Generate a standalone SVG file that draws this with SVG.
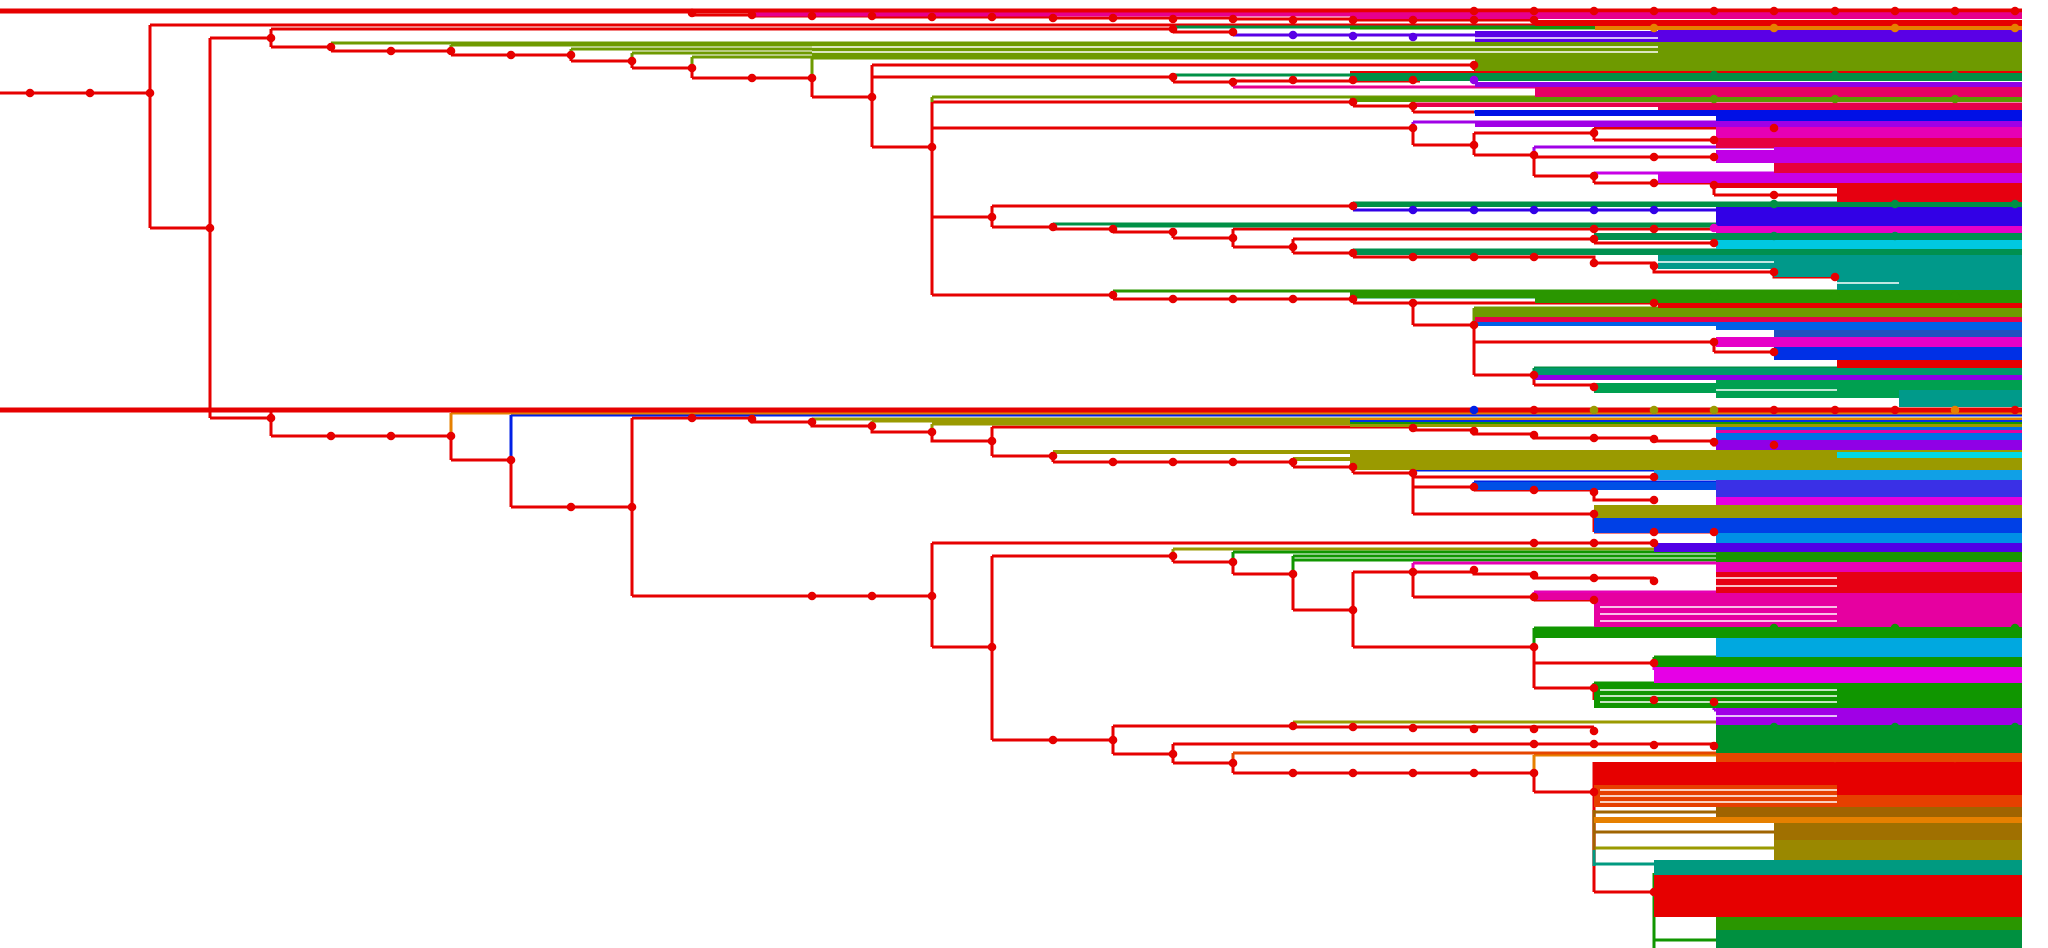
<svg xmlns="http://www.w3.org/2000/svg" width="2048" height="948" viewBox="0 0 2048 948">
<style>
path{fill:none;stroke-width:3;stroke-linecap:butt;stroke-linejoin:miter}
.r{stroke:#e60000}
.ol{stroke:#6e9a00}
.g{stroke:#009046}
.g2{stroke:#2a9600}
.g3{stroke:#109600}
.pb{stroke:#5a00e6}
.mg{stroke:#e6008c}
.pu{stroke:#a000e6}
.vi{stroke:#c800e6}
.bp{stroke:#3200e6}
.pk{stroke:#e6004a}
.bl{stroke:#0020e6}
.b2{stroke:#0060e6}
.or{stroke:#e68000}
.oy{stroke:#9a9a00}
.mp{stroke:#e600b4}
.m2{stroke:#e600e6}
.orr{stroke:#e64600}
.wh{stroke:#ffffff;stroke-width:1.6}
.d circle{fill:#e60000}
</style>
<g id="connectors">
<path class="r" d="M0 93H150M150 25V228M150 25H2022M150 228H210M210 38V418M210 38H271M210 418H271M271 29V47M271 29H1173M271 47H331M331 47V51M331 51H451M451 51V55M451 55H571M571 55V61M571 61H632M632 61V68M632 68H692M692 68V78M692 78H812M812 78V97M812 97H872M872 65V147M872 65H1474M1474 65V70M1474 70H2022M872 77H1173M872 147H932M1173 77V82M1173 82H1233M1233 81H1420M932 102V295M932 102H1353M1353 102V106M1353 106H1413M1413 106V112M1413 112H1474M932 128H1413M1413 128V145M1413 145H1474M1474 133V155M1474 133H1594M1594 128V140M1594 128H1774M1594 140H1714M1474 155H1534M1534 155V176M1534 157H1714M1534 176H1594M1594 176V183M1594 183H1714M1714 183V195M1714 195H1837M932 217H992M992 206V227M992 206H1353M992 227H1053M1053 227V229M1053 229H1113M1113 229V232M1113 232H1173M1173 232V238M1173 238H1233M1233 229V247M1233 229H1716M1233 247H1293M1293 239V253M1293 239H1594M1594 239V243M1594 243H1716M1293 253H1353M1353 253V257M1353 257H1594V263H1654V272H1774V277H1837M932 295H1113M1113 295V299M1113 299H1353M1353 299V303M1353 303H1413M1413 303V325M1413 303H1716M1413 325H1474M1474 325V375M1474 342H1714M1714 342V352M1714 352H1774M1474 375H1534M1534 375V385M1534 385H1594M1173 29V32M1173 32H1233M692 15H752V16H872V17H1053V18H1233V19H1353V20H1534"/>
<path class="r" d="M271 410V436M271 436H451M451 436V460M451 460H511M511 460V507M511 507H632M632 418V596M632 418H752V422H812V426H872V432H932V441H992M992 427V456M992 427H1413V430H1474V434H1534V438H1654V441H1714V445H1774M992 456H1053M1053 456V462M1053 462H1293M1293 462V467M1293 467H1353M1353 467V473M1353 473H1413M1413 473V514M1413 477H1654M1413 487H1474M1474 487V490M1474 490H1594V500H1654M1413 514H1594M1594 514V532M1594 532H1714M632 596H932M932 543V647M932 543H1654M932 647H992M992 556V740M992 556H1173M1173 556V562M1173 562H1233M1233 562V574M1233 574H1293M1293 574V610M1293 610H1353M1353 572V647M1353 572H1413M1413 572V597M1413 572H1474V574H1534V578H1654M1413 597H1534M1534 597V600M1534 600H1594M1353 647H1534M1534 647V688M1534 663H1654M1534 688H1594M1594 688V700M1594 700H1714M992 740H1113M1113 726V754M1113 726H1293M1293 726V727M1293 727H1594M1113 754H1173M1173 744V763M1173 744H1716M1173 763H1233M1233 763V773M1233 773H1534M1534 773V792M1534 792H1594M1594 762V892M1594 892H1654"/>
<path class="ol" d="M331 43V47M331 43H2022M451 45V51M451 45H2022M571 49V55M571 49H2022M632 53V61M632 53H2022M692 57V68M692 57H2022M812 58V78M812 58H2022M932 97V102M932 97H2022M1474 308V325M1474 308H2022"/>
<path class="g" d="M1173 27V29M1173 27H2022M1173 75V77M1173 75H2022M1353 203V206M1353 203H2022M1053 224V227M1053 224H2022M1113 226H2022M1353 250V253M1353 250H2022M1353 297V299M1353 297H2022M1534 368V375M1534 368H2022"/>
<path class="g2" d="M1113 291V295M1113 291H2022"/>
<path class="pb" d="M1233 32V35M1233 35H2022"/>
<path class="mg" d="M1233 82V87M1233 87H2022"/>
<path class="pu" d="M1413 122V128M1413 122H2022M1534 147V155M1534 147H2022M1534 378H2022M1714 702V710M1714 710H2022"/>
<path class="vi" d="M1594 173V176M1594 173H2022"/>
<path class="bp" d="M1353 206V210M1353 210H2022"/>
<path class="pk" d="M1413 104H2022"/>
<path class="bl" d="M1474 112H2022M511 415V460M511 415H2022M1413 470V473M1413 470H2022M1474 482V487M1474 482H2022"/>
<path class="b2" d="M1474 322H2022"/>
<path class="or" d="M451 413V436M451 413H2022M1534 755V773M1534 755H2022M1594 820H2022"/>
<path class="oy" d="M812 419V422M812 419H2022M872 421V426M872 421H2022M932 424V432M932 424H2022M1594 510V514M1594 510H2022M1173 549V556M1173 549H2022M1293 722V726M1293 722H2022M1594 848H2022"/>
<path class="oy" style="stroke-width:4" d="M1053 452V456M1053 452H2022M1293 459V462M1293 459H2022"/>
<path class="g3" d="M1233 552V562M1233 552H2022M1293 556V574M1293 556H2022M1293 560H2022M1534 628V647M1534 628H2022M1654 657V663M1654 657H2022M1594 683V688M1594 683H2022M1654 873V948M1654 880H1716M1654 940H1716"/>
<path class="mp" d="M1413 563V572M1413 563H2022M1534 592V597M1534 592H2022"/>
<path class="m2" d="M1654 663V670M1654 670H2022"/>
<path class="orr" d="M1233 753V763M1233 753H2022M1594 797H2022"/>
<path style="stroke:#a06400" d="M1594 810V850M1594 812H2022M1594 832H2022"/>
<path style="stroke:#009a80" d="M1594 850V866M1594 864H1654"/>
<g id="bands">
<rect x="0" y="8.5" width="2022" height="5" fill="#e60000"/>
<rect x="752" y="12.5" width="1270" height="4" fill="#e6008c"/>
<rect x="1350" y="12.5" width="672" height="6.5" fill="#e6008c"/>
<rect x="1535" y="20" width="487" height="6" fill="#e60000"/>
<rect x="1350" y="26.5" width="672" height="3" fill="#1a9600"/>
<rect x="1595" y="26" width="427" height="4" fill="#e68000"/>
<rect x="1475" y="31" width="547" height="12" fill="#5a00e6"/>
<rect x="1658" y="30" width="364" height="14" fill="#5a00e6"/>
<rect x="812" y="42" width="1210" height="15" fill="#6e9a00"/>
<rect x="1475" y="55" width="547" height="17" fill="#6e9a00"/>
<rect x="1658" y="42" width="364" height="30" fill="#6e9a00"/>
<rect x="1350" y="71" width="672" height="2" fill="#e60000"/>
<rect x="1350" y="73" width="672" height="8" fill="#009046"/>
<rect x="1475" y="82" width="547" height="5" fill="#9000e6"/>
<rect x="1535" y="87" width="487" height="10" fill="#e60064"/>
<rect x="1350" y="97" width="672" height="5" fill="#5a9a00"/>
<rect x="1417" y="103" width="605" height="4" fill="#e6004a"/>
<rect x="1658" y="103" width="364" height="7" fill="#e6004a"/>
<rect x="1475" y="110" width="547" height="6" fill="#0010e6"/>
<rect x="1716" y="110" width="306" height="12" fill="#0010e6"/>
<rect x="1475" y="121" width="547" height="6" fill="#a000e6"/>
<rect x="1716" y="127" width="306" height="11" fill="#e600b4"/>
<rect x="1716" y="138" width="306" height="10" fill="#e60040"/>
<rect x="1716" y="150" width="306" height="13" fill="#c000e6"/>
<rect x="1774" y="147" width="248" height="16" fill="#c000e6"/>
<rect x="1774" y="163" width="248" height="10" fill="#e6003c"/>
<rect x="1658" y="173" width="364" height="10" fill="#c800e6"/>
<rect x="1716" y="183" width="306" height="5" fill="#e60010"/>
<rect x="1837" y="183" width="185" height="20" fill="#e60010"/>
<rect x="1353" y="202" width="669" height="5" fill="#009046"/>
<rect x="1716" y="207" width="306" height="19" fill="#3200e6"/>
<rect x="1716" y="226" width="306" height="7" fill="#e600c8"/>
<rect x="1594" y="233" width="428" height="7" fill="#009050"/>
<rect x="1716" y="240" width="306" height="12" fill="#00c8e0"/>
<rect x="1353" y="249" width="669" height="6" fill="#009050"/>
<rect x="1658" y="255" width="364" height="14" fill="#00998a"/>
<rect x="1774" y="255" width="248" height="22" fill="#00998a"/>
<rect x="1837" y="255" width="185" height="35" fill="#00998a"/>
<rect x="1350" y="290" width="672" height="8" fill="#2a9600"/>
<rect x="1535" y="290" width="487" height="13" fill="#2a9600"/>
<rect x="1658" y="303" width="364" height="7" fill="#e60000"/>
<rect x="1475" y="308" width="547" height="9" fill="#6e9a00"/>
<rect x="1475" y="317" width="547" height="5" fill="#e6004a"/>
<rect x="1475" y="322" width="547" height="4" fill="#0060e6"/>
<rect x="1716" y="322" width="306" height="8" fill="#0060e6"/>
<rect x="1774" y="330" width="248" height="7" fill="#2050c0"/>
<rect x="1716" y="337" width="306" height="10" fill="#e600c8"/>
<rect x="1774" y="347" width="248" height="13" fill="#0030e6"/>
<rect x="1837" y="360" width="185" height="8" fill="#e60000"/>
<rect x="1535" y="368" width="487" height="7" fill="#00996a"/>
<rect x="1535" y="375" width="487" height="5" fill="#9000e6"/>
<rect x="1594" y="383" width="428" height="10" fill="#00a050"/>
<rect x="1716" y="380" width="306" height="18" fill="#00a050"/>
<rect x="1899" y="390" width="123" height="17" fill="#009a8a"/>
<rect x="0" y="407.5" width="2022" height="5" fill="#e60000"/>
<rect x="1350" y="418" width="672" height="2" fill="#e68000"/>
<rect x="1350" y="420" width="672" height="2" fill="#0030e6"/>
<rect x="1350" y="422" width="672" height="2" fill="#1a9600"/>
<rect x="1350" y="424" width="672" height="3" fill="#9a9a00"/>
<rect x="1716" y="427" width="306" height="13" fill="#0070e6"/>
<rect x="1716" y="430" width="306" height="3" fill="#e600a0"/>
<rect x="1716" y="440" width="306" height="10" fill="#9000e6"/>
<rect x="1350" y="450" width="672" height="20" fill="#9a9a00"/>
<rect x="1837" y="452" width="185" height="6" fill="#00d8e6"/>
<rect x="1654" y="470" width="368" height="10" fill="#10a0e6"/>
<rect x="1474" y="482" width="548" height="8" fill="#0050e6"/>
<rect x="1716" y="480" width="306" height="17" fill="#3a30e6"/>
<rect x="1716" y="497" width="306" height="8" fill="#e600e0"/>
<rect x="1594" y="505" width="428" height="13" fill="#9a9a00"/>
<rect x="1594" y="518" width="428" height="15" fill="#0040e6"/>
<rect x="1716" y="533" width="306" height="10" fill="#0090e6"/>
<rect x="1654" y="543" width="368" height="9" fill="#5000e6"/>
<rect x="1716" y="552" width="306" height="10" fill="#1a9600"/>
<rect x="1716" y="562" width="306" height="10" fill="#e600b4"/>
<rect x="1716" y="572" width="306" height="21" fill="#e60014"/>
<rect x="1534" y="593" width="488" height="7" fill="#e600a0"/>
<rect x="1594" y="600" width="428" height="27" fill="#e600a0"/>
<rect x="1534" y="627" width="488" height="11" fill="#109600"/>
<rect x="1716" y="638" width="306" height="19" fill="#00a8e0"/>
<rect x="1654" y="657" width="368" height="10" fill="#109600"/>
<rect x="1654" y="667" width="368" height="16" fill="#e600e6"/>
<rect x="1594" y="683" width="428" height="25" fill="#109600"/>
<rect x="1716" y="708" width="306" height="17" fill="#a000e6"/>
<rect x="1716" y="725" width="306" height="28" fill="#009028"/>
<rect x="1716" y="753" width="306" height="9" fill="#e64600"/>
<rect x="1594" y="762" width="428" height="23" fill="#e60000"/>
<rect x="1594" y="785" width="428" height="22" fill="#e64000"/>
<rect x="1837" y="785" width="185" height="10" fill="#e60000"/>
<rect x="1716" y="807" width="306" height="10" fill="#a06400"/>
<rect x="1594" y="817" width="428" height="6" fill="#e68000"/>
<rect x="1774" y="823" width="248" height="17" fill="#a07000"/>
<rect x="1774" y="840" width="248" height="20" fill="#9a8800"/>
<rect x="1654" y="860" width="368" height="15" fill="#009a80"/>
<rect x="1654" y="875" width="368" height="42" fill="#e60000"/>
<rect x="1716" y="917" width="306" height="13" fill="#2a9600"/>
<rect x="1716" y="930" width="306" height="18" fill="#009040"/>
<path class="wh" d="M812 47H1658M812 52H1658M1837 283H1899M1716 578H1837M1716 586H1837M1600 607H1837M1600 614H1837M1600 621H1837M1600 690H1837M1600 696H1837M1600 702H1837M1716 716H1837M1600 790H1837M1600 796H1837M1600 802H1837M1658 262H1774M1475 38H1658M1716 390H1837"/>
</g>
</g>
<g id="nodes" class="d">
<g id="n1"><circle cx="30" cy="93" r="4.3"/></g>
<g id="n2"><circle cx="90" cy="93" r="4.3"/></g>
<g id="n3"><circle cx="150" cy="93" r="4.3"/></g>
<g id="n4"><circle cx="210" cy="228" r="4.3"/></g>
<g id="n5"><circle cx="271" cy="38" r="4.3"/></g>
<g id="n6"><circle cx="331" cy="47" r="4.3"/></g>
<g id="n7"><circle cx="391" cy="51" r="4.3"/></g>
<g id="n8"><circle cx="451" cy="51" r="4.3"/></g>
<g id="n9"><circle cx="511" cy="55" r="4.3"/></g>
<g id="n10"><circle cx="571" cy="55" r="4.3"/></g>
<g id="n11"><circle cx="632" cy="61" r="4.3"/></g>
<g id="n12"><circle cx="692" cy="68" r="4.3"/></g>
<g id="n13"><circle cx="752" cy="78" r="4.3"/></g>
<g id="n14"><circle cx="812" cy="78" r="4.3"/></g>
<g id="n15"><circle cx="872" cy="97" r="4.3"/></g>
<g id="n16"><circle cx="932" cy="147" r="4.3"/></g>
<g id="n17"><circle cx="692" cy="13" r="4.3"/></g>
<g id="n18"><circle cx="752" cy="15" r="4.3"/></g>
<g id="n19"><circle cx="812" cy="16" r="4.3"/></g>
<g id="n20"><circle cx="872" cy="16" r="4.3"/></g>
<g id="n21"><circle cx="932" cy="17" r="4.3"/></g>
<g id="n22"><circle cx="992" cy="17" r="4.3"/></g>
<g id="n23"><circle cx="1053" cy="18" r="4.3"/></g>
<g id="n24"><circle cx="1113" cy="18" r="4.3"/></g>
<g id="n25"><circle cx="1173" cy="19" r="4.3"/></g>
<g id="n26"><circle cx="1233" cy="19" r="4.3"/></g>
<g id="n27"><circle cx="1293" cy="20" r="4.3"/></g>
<g id="n28"><circle cx="1353" cy="20" r="4.3"/></g>
<g id="n29"><circle cx="1413" cy="20" r="4.3"/></g>
<g id="n30"><circle cx="1474" cy="20" r="4.3"/></g>
<g id="n31"><circle cx="1534" cy="20" r="4.3"/></g>
<g id="n32"><circle cx="1474" cy="11" r="4.3"/></g>
<g id="n33"><circle cx="1534" cy="11" r="4.3"/></g>
<g id="n34"><circle cx="1594" cy="11" r="4.3"/></g>
<g id="n35"><circle cx="1654" cy="11" r="4.3"/></g>
<g id="n36"><circle cx="1714" cy="11" r="4.3"/></g>
<g id="n37"><circle cx="1774" cy="11" r="4.3"/></g>
<g id="n38"><circle cx="1835" cy="11" r="4.3"/></g>
<g id="n39"><circle cx="1895" cy="11" r="4.3"/></g>
<g id="n40"><circle cx="1955" cy="11" r="4.3"/></g>
<g id="n41"><circle cx="2015" cy="11" r="4.3"/></g>
<g id="n42"><circle cx="1173" cy="29" r="4.3"/></g>
<g id="n43"><circle cx="1233" cy="32" r="4.3"/></g>
<g id="n44"><circle cx="1173" cy="77" r="4.3"/></g>
<g id="n45"><circle cx="1233" cy="82" r="4.3"/></g>
<g id="n46"><circle cx="1293" cy="80" r="4.3"/></g>
<g id="n47"><circle cx="1353" cy="80" r="4.3"/></g>
<g id="n48"><circle cx="1413" cy="80" r="4.3"/></g>
<g id="n49"><circle cx="1474" cy="65" r="4.3"/></g>
<g id="n50"><circle cx="1353" cy="102" r="4.3"/></g>
<g id="n51"><circle cx="1413" cy="106" r="4.3"/></g>
<g id="n52"><circle cx="1413" cy="128" r="4.3"/></g>
<g id="n53"><circle cx="1474" cy="145" r="4.3"/></g>
<g id="n54"><circle cx="1534" cy="155" r="4.3"/></g>
<g id="n55"><circle cx="1594" cy="133" r="4.3"/></g>
<g id="n56"><circle cx="1714" cy="140" r="4.3"/></g>
<g id="n57"><circle cx="1594" cy="176" r="4.3"/></g>
<g id="n58"><circle cx="1654" cy="183" r="4.3"/></g>
<g id="n59"><circle cx="1714" cy="185" r="4.3"/></g>
<g id="n60"><circle cx="1774" cy="195" r="4.3"/></g>
<g id="n61"><circle cx="1654" cy="157" r="4.3"/></g>
<g id="n62"><circle cx="1714" cy="157" r="4.3"/></g>
<g id="n63"><circle cx="1774" cy="128" r="4.3"/></g>
<g id="n64"><circle cx="992" cy="217" r="4.3"/></g>
<g id="n65"><circle cx="1053" cy="227" r="4.3"/></g>
<g id="n66"><circle cx="1113" cy="229" r="4.3"/></g>
<g id="n67"><circle cx="1173" cy="232" r="4.3"/></g>
<g id="n68"><circle cx="1233" cy="238" r="4.3"/></g>
<g id="n69"><circle cx="1293" cy="247" r="4.3"/></g>
<g id="n70"><circle cx="1353" cy="253" r="4.3"/></g>
<g id="n71"><circle cx="1353" cy="206" r="4.3"/></g>
<g id="n72"><circle cx="1413" cy="257" r="4.3"/></g>
<g id="n73"><circle cx="1474" cy="257" r="4.3"/></g>
<g id="n74"><circle cx="1534" cy="257" r="4.3"/></g>
<g id="n75"><circle cx="1594" cy="263" r="4.3"/></g>
<g id="n76"><circle cx="1654" cy="266" r="4.3"/></g>
<g id="n77"><circle cx="1774" cy="272" r="4.3"/></g>
<g id="n78"><circle cx="1835" cy="277" r="4.3"/></g>
<g id="n79"><circle cx="1594" cy="229" r="4.3"/></g>
<g id="n80"><circle cx="1654" cy="229" r="4.3"/></g>
<g id="n81"><circle cx="1594" cy="239" r="4.3"/></g>
<g id="n82"><circle cx="1714" cy="243" r="4.3"/></g>
<g id="n83"><circle cx="1113" cy="295" r="4.3"/></g>
<g id="n84"><circle cx="1173" cy="299" r="4.3"/></g>
<g id="n85"><circle cx="1233" cy="299" r="4.3"/></g>
<g id="n86"><circle cx="1293" cy="299" r="4.3"/></g>
<g id="n87"><circle cx="1353" cy="299" r="4.3"/></g>
<g id="n88"><circle cx="1413" cy="303" r="4.3"/></g>
<g id="n89"><circle cx="1654" cy="303" r="4.3"/></g>
<g id="n90"><circle cx="1474" cy="325" r="4.3"/></g>
<g id="n91"><circle cx="1714" cy="342" r="4.3"/></g>
<g id="n92"><circle cx="1774" cy="352" r="4.3"/></g>
<g id="n93"><circle cx="1534" cy="375" r="4.3"/></g>
<g id="n94"><circle cx="1594" cy="387" r="4.3"/></g>
<g id="n95"><circle cx="271" cy="418" r="4.3"/></g>
<g id="n96"><circle cx="331" cy="436" r="4.3"/></g>
<g id="n97"><circle cx="391" cy="436" r="4.3"/></g>
<g id="n98"><circle cx="451" cy="436" r="4.3"/></g>
<g id="n99"><circle cx="511" cy="460" r="4.3"/></g>
<g id="n100"><circle cx="571" cy="507" r="4.3"/></g>
<g id="n101"><circle cx="632" cy="507" r="4.3"/></g>
<g id="n102"><circle cx="692" cy="418" r="4.3"/></g>
<g id="n103"><circle cx="752" cy="419" r="4.3"/></g>
<g id="n104"><circle cx="812" cy="422" r="4.3"/></g>
<g id="n105"><circle cx="872" cy="426" r="4.3"/></g>
<g id="n106"><circle cx="932" cy="432" r="4.3"/></g>
<g id="n107"><circle cx="992" cy="441" r="4.3"/></g>
<g id="n108"><circle cx="1053" cy="456" r="4.3"/></g>
<g id="n109"><circle cx="1113" cy="462" r="4.3"/></g>
<g id="n110"><circle cx="1173" cy="462" r="4.3"/></g>
<g id="n111"><circle cx="1233" cy="462" r="4.3"/></g>
<g id="n112"><circle cx="1293" cy="462" r="4.3"/></g>
<g id="n113"><circle cx="1353" cy="467" r="4.3"/></g>
<g id="n114"><circle cx="1413" cy="473" r="4.3"/></g>
<g id="n115"><circle cx="1474" cy="487" r="4.3"/></g>
<g id="n116"><circle cx="1534" cy="490" r="4.3"/></g>
<g id="n117"><circle cx="1594" cy="492" r="4.3"/></g>
<g id="n118"><circle cx="1654" cy="500" r="4.3"/></g>
<g id="n119"><circle cx="1654" cy="477" r="4.3"/></g>
<g id="n120"><circle cx="1594" cy="514" r="4.3"/></g>
<g id="n121"><circle cx="1654" cy="532" r="4.3"/></g>
<g id="n122"><circle cx="1714" cy="532" r="4.3"/></g>
<g id="n123"><circle cx="1413" cy="428" r="4.3"/></g>
<g id="n124"><circle cx="1474" cy="431" r="4.3"/></g>
<g id="n125"><circle cx="1534" cy="435" r="4.3"/></g>
<g id="n126"><circle cx="1594" cy="438" r="4.3"/></g>
<g id="n127"><circle cx="1654" cy="439" r="4.3"/></g>
<g id="n128"><circle cx="1714" cy="442" r="4.3"/></g>
<g id="n129"><circle cx="1774" cy="445" r="4.3"/></g>
<g id="n130"><circle cx="1534" cy="410" r="4.3"/></g>
<g id="n131"><circle cx="1774" cy="410" r="4.3"/></g>
<g id="n132"><circle cx="1835" cy="410" r="4.3"/></g>
<g id="n133"><circle cx="1895" cy="410" r="4.3"/></g>
<g id="n134"><circle cx="2015" cy="410" r="4.3"/></g>
<g id="n135"><circle cx="812" cy="596" r="4.3"/></g>
<g id="n136"><circle cx="872" cy="596" r="4.3"/></g>
<g id="n137"><circle cx="932" cy="596" r="4.3"/></g>
<g id="n138"><circle cx="1534" cy="543" r="4.3"/></g>
<g id="n139"><circle cx="1594" cy="543" r="4.3"/></g>
<g id="n140"><circle cx="1654" cy="543" r="4.3"/></g>
<g id="n141"><circle cx="992" cy="647" r="4.3"/></g>
<g id="n142"><circle cx="1173" cy="556" r="4.3"/></g>
<g id="n143"><circle cx="1233" cy="562" r="4.3"/></g>
<g id="n144"><circle cx="1293" cy="574" r="4.3"/></g>
<g id="n145"><circle cx="1353" cy="610" r="4.3"/></g>
<g id="n146"><circle cx="1413" cy="572" r="4.3"/></g>
<g id="n147"><circle cx="1474" cy="570" r="4.3"/></g>
<g id="n148"><circle cx="1534" cy="575" r="4.3"/></g>
<g id="n149"><circle cx="1594" cy="578" r="4.3"/></g>
<g id="n150"><circle cx="1654" cy="581" r="4.3"/></g>
<g id="n151"><circle cx="1534" cy="597" r="4.3"/></g>
<g id="n152"><circle cx="1594" cy="600" r="4.3"/></g>
<g id="n153"><circle cx="1534" cy="647" r="4.3"/></g>
<g id="n154"><circle cx="1654" cy="663" r="4.3"/></g>
<g id="n155"><circle cx="1594" cy="688" r="4.3"/></g>
<g id="n156"><circle cx="1654" cy="700" r="4.3"/></g>
<g id="n157"><circle cx="1714" cy="702" r="4.3"/></g>
<g id="n158"><circle cx="1053" cy="740" r="4.3"/></g>
<g id="n159"><circle cx="1113" cy="740" r="4.3"/></g>
<g id="n160"><circle cx="1173" cy="754" r="4.3"/></g>
<g id="n161"><circle cx="1233" cy="763" r="4.3"/></g>
<g id="n162"><circle cx="1293" cy="726" r="4.3"/></g>
<g id="n163"><circle cx="1353" cy="727" r="4.3"/></g>
<g id="n164"><circle cx="1413" cy="728" r="4.3"/></g>
<g id="n165"><circle cx="1474" cy="729" r="4.3"/></g>
<g id="n166"><circle cx="1534" cy="729" r="4.3"/></g>
<g id="n167"><circle cx="1594" cy="731" r="4.3"/></g>
<g id="n168"><circle cx="1534" cy="744" r="4.3"/></g>
<g id="n169"><circle cx="1594" cy="744" r="4.3"/></g>
<g id="n170"><circle cx="1654" cy="745" r="4.3"/></g>
<g id="n171"><circle cx="1714" cy="746" r="4.3"/></g>
<g id="n172"><circle cx="1293" cy="773" r="4.3"/></g>
<g id="n173"><circle cx="1353" cy="773" r="4.3"/></g>
<g id="n174"><circle cx="1413" cy="773" r="4.3"/></g>
<g id="n175"><circle cx="1474" cy="773" r="4.3"/></g>
<g id="n176"><circle cx="1534" cy="773" r="4.3"/></g>
<g id="n177"><circle cx="1594" cy="792" r="4.3"/></g>
<g id="n178"><circle cx="1654" cy="892" r="4.3"/></g>
<g id="n179"><circle cx="1293" cy="35" r="4.3" style="fill:#5a00e6"/></g>
<g id="n180"><circle cx="1353" cy="36" r="4.3" style="fill:#5a00e6"/></g>
<g id="n181"><circle cx="1413" cy="37" r="4.3" style="fill:#5a00e6"/></g>
<g id="n182"><circle cx="1474" cy="80" r="4.3" style="fill:#9000e6"/></g>
<g id="n183"><circle cx="1413" cy="210" r="4.3" style="fill:#3200e6"/></g>
<g id="n184"><circle cx="1474" cy="210" r="4.3" style="fill:#3200e6"/></g>
<g id="n185"><circle cx="1534" cy="210" r="4.3" style="fill:#3200e6"/></g>
<g id="n186"><circle cx="1594" cy="210" r="4.3" style="fill:#3200e6"/></g>
<g id="n187"><circle cx="1654" cy="210" r="4.3" style="fill:#3200e6"/></g>
<g id="n188"><circle cx="1714" cy="228" r="4.3" style="fill:#e600c8"/></g>
<g id="n189"><circle cx="1474" cy="410" r="4.3" style="fill:#0020e6"/></g>
<g id="n190"><circle cx="1594" cy="410" r="4.3" style="fill:#9a9a00"/></g>
<g id="n191"><circle cx="1654" cy="410" r="4.3" style="fill:#9a9a00"/></g>
<g id="n192"><circle cx="1714" cy="410" r="4.3" style="fill:#9a9a00"/></g>
<g id="n193"><circle cx="1955" cy="410" r="4.3" style="fill:#e68000"/></g>
<g id="n194"><circle cx="1654" cy="28" r="4.3" style="fill:#e68000"/></g>
<g id="n195"><circle cx="1774" cy="28" r="4.3" style="fill:#e68000"/></g>
<g id="n196"><circle cx="1895" cy="28" r="4.3" style="fill:#e68000"/></g>
<g id="n197"><circle cx="2015" cy="28" r="4.3" style="fill:#e68000"/></g>
<g id="n198"><circle cx="1714" cy="75" r="4.3" style="fill:#009046"/></g>
<g id="n199"><circle cx="1835" cy="75" r="4.3" style="fill:#009046"/></g>
<g id="n200"><circle cx="1955" cy="75" r="4.3" style="fill:#009046"/></g>
<g id="n201"><circle cx="1714" cy="99" r="4.3" style="fill:#5a9a00"/></g>
<g id="n202"><circle cx="1835" cy="99" r="4.3" style="fill:#5a9a00"/></g>
<g id="n203"><circle cx="1955" cy="99" r="4.3" style="fill:#5a9a00"/></g>
<g id="n204"><circle cx="1774" cy="204" r="4.3" style="fill:#009046"/></g>
<g id="n205"><circle cx="1895" cy="204" r="4.3" style="fill:#009046"/></g>
<g id="n206"><circle cx="2015" cy="204" r="4.3" style="fill:#009046"/></g>
<g id="n207"><circle cx="1774" cy="236" r="4.3" style="fill:#009050"/></g>
<g id="n208"><circle cx="1895" cy="236" r="4.3" style="fill:#009050"/></g>
<g id="n209"><circle cx="1714" cy="296" r="4.3" style="fill:#2a9600"/></g>
<g id="n210"><circle cx="1835" cy="296" r="4.3" style="fill:#2a9600"/></g>
<g id="n211"><circle cx="1955" cy="296" r="4.3" style="fill:#2a9600"/></g>
<g id="n212"><circle cx="1774" cy="628" r="4.3" style="fill:#109600"/></g>
<g id="n213"><circle cx="1895" cy="628" r="4.3" style="fill:#109600"/></g>
<g id="n214"><circle cx="2015" cy="628" r="4.3" style="fill:#109600"/></g>
<g id="n215"><circle cx="1774" cy="727" r="4.3" style="fill:#009028"/></g>
<g id="n216"><circle cx="1895" cy="727" r="4.3" style="fill:#009028"/></g>
<g id="n217"><circle cx="2015" cy="727" r="4.3" style="fill:#009028"/></g>
<g id="n218"><circle cx="1835" cy="758" r="4.3" style="fill:#e64600"/></g>
<g id="n219"><circle cx="1955" cy="758" r="4.3" style="fill:#e64600"/></g>
</g>
</svg>
